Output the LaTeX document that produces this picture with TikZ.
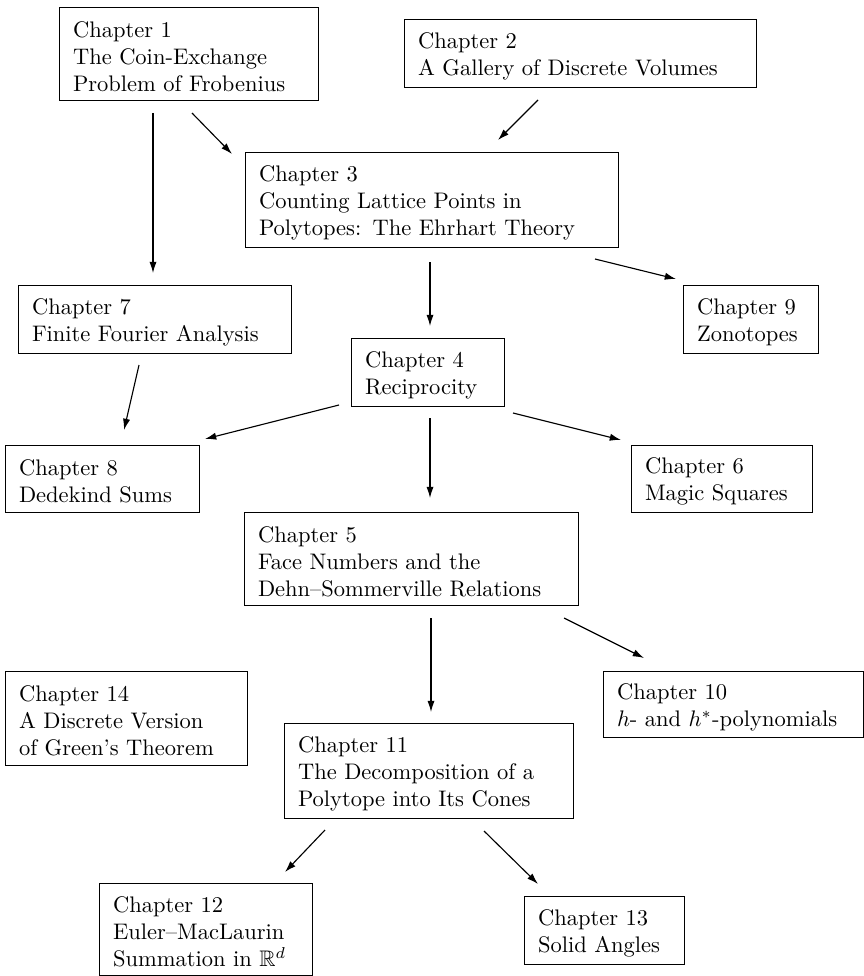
\documentclass[tikz,border=0pt]{standalone}
\usepackage{amssymb}
\usetikzlibrary{arrows.meta}
\begin{document}
\begin{tikzpicture}[x=0.4444pt,y=-0.4444pt,
  chap/.style={draw, line width=0.45pt, rectangle, anchor=north west, inner xsep=6pt, inner ysep=0pt, align=left, font=\fontsize{10}{12}\selectfont, execute at begin node={\rule{0pt}{9.5pt}}},
  conn/.style={line width=0.5pt, -{Latex[length=5pt,width=3.2pt]}}]
\useasboundingbox (0,0) rectangle (864,976);
\node[chap, text width=103.1pt, minimum height=41.3pt] (c1) at (59,7) {Chapter 1\\The Coin-Exchange\\Problem of Frobenius};
\node[chap, text width=144.4pt, minimum height=30.2pt] (c2) at (404,19) {Chapter 2\\A Gallery of Discrete Volumes};
\node[chap, text width=153.8pt, minimum height=42.2pt] (c3) at (245,152) {Chapter 3\\Counting Lattice Points in\\Polytopes: The Ehrhart Theory};
\node[chap, text width=109.3pt, minimum height=30.2pt] (c7) at (18,285) {Chapter 7\\Finite Fourier Analysis};
\node[chap, text width=56.0pt, minimum height=30.2pt] (c4) at (351,338) {Chapter 4\\Reciprocity};
\node[chap, text width=48.0pt, minimum height=30.2pt] (c9) at (683,285) {Chapter 9\\Zonotopes};
\node[chap, text width=74.2pt, minimum height=29.8pt] (c8) at (5,445) {Chapter 8\\Dedekind Sums};
\node[chap, text width=68.4pt, minimum height=29.8pt] (c6) at (631,445) {Chapter 6\\Magic Squares};
\node[chap, text width=136.4pt, minimum height=41.3pt] (c5) at (244,512) {Chapter 5\\Face Numbers and the\\Dehn--Sommerville Relations};
\node[chap, text width=95.6pt, minimum height=41.8pt] (c14) at (5,671) {Chapter 14\\A Discrete Version\\of Green's Theorem};
\node[chap, text width=103.6pt, minimum height=29.3pt] (c10) at (603,671) {Chapter 10\\$h$- and $h^*$-polynomials};
\node[chap, text width=116.4pt, minimum height=42.2pt] (c11) at (284,723) {Chapter 11\\The Decomposition of a\\Polytope into Its Cones};
\node[chap, text width=82.7pt, minimum height=40.9pt] (c12) at (99,883) {Chapter 12\\Euler--MacLaurin\\Summation in $\mathbb{R}^d$};
\node[chap, text width=59.1pt, minimum height=30.2pt] (c13) at (524,896) {Chapter 13\\Solid Angles};
% connector end points
\coordinate (a1s) at (153,113); \coordinate (a1e) at (153,273);
\coordinate (a2s) at (192,113); \coordinate (a2e) at (232,154);
\coordinate (a3s) at (538,100); \coordinate (a3e) at (498,140);
\coordinate (a4s) at (430,262); \coordinate (a4e) at (430,326);
\coordinate (a5s) at (595,259); \coordinate (a5e) at (676,279);
\coordinate (a6s) at (139,365); \coordinate (a6e) at (124,430);
\coordinate (a7s) at (339,405); \coordinate (a7e) at (205,439);
\coordinate (a8s) at (513,413); \coordinate (a8e) at (621,440);
\coordinate (a9s) at (430,418); \coordinate (a9e) at (430,498);
\coordinate (a10s) at (431,618); \coordinate (a10e) at (431,712);
\coordinate (a11s) at (564,618); \coordinate (a11e) at (644,658);
\coordinate (a12s) at (325,830); \coordinate (a12e) at (285,872);
\coordinate (a13s) at (484,831); \coordinate (a13e) at (538,884);
\foreach \i in {1,...,13} \draw[conn] (a\i s) -- (a\i e);
\end{tikzpicture}
\end{document}
